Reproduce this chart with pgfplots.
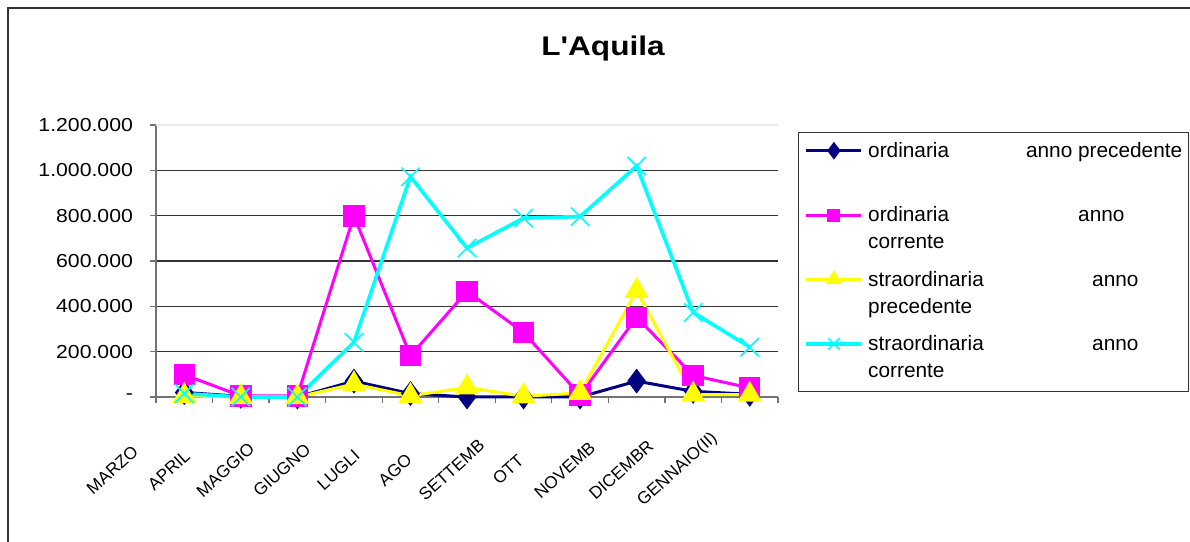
\documentclass[border=0pt]{standalone}
\usepackage{fontspec}
\setmainfont{Liberation Sans}
\usepackage{pgfplots}
\pgfplotsset{compat=1.18}
\definecolor{cnavy}{RGB}{0,0,128}
\definecolor{cmag}{RGB}{255,0,255}
\definecolor{cyel}{RGB}{255,255,0}
\definecolor{ccyan}{RGB}{0,255,255}
\begin{document}
\begin{tikzpicture}
\useasboundingbox (0,0) rectangle (595bp,271bp);
\draw[black!80, line width=0.8bp] (4bp,0) -- (4bp,267bp) -- (595bp,267bp);
\node[font=\fontsize{13.5bp}{16bp}\selectfont\bfseries, xscale=1.17] at (301.5bp,246.5bp) {L\textquotesingle Aquila};
\begin{axis}[
  at={(78bp,72.5bp)}, anchor=south west,
  scale only axis, width=311bp, height=136bp,
  xmin=-0.5, xmax=10.5, ymin=0, ymax=1200000,
  clip=false,
  axis x line*=bottom, axis y line*=left,
  axis line style={black!55, line width=0.6bp},
  xtick={-0.5,0.5,...,10.5},
  xticklabels={},
  extra x ticks={0,1,2,3,4,5,6,7,8,9,10},
  extra x tick labels={MARZO,APRIL,MAGGIO,GIUGNO,LUGLI,AGO,SETTEMB,OTT,NOVEMB,DICEMBR,GENNAIO(II)},
  extra x tick style={major tick length=0pt, tick style={draw=none},
    xticklabel style={font=\fontsize{8.6bp}{10bp}\selectfont, anchor=center, inner sep=0pt, xshift=-36bp, yshift=-36.5bp, rotate=42}},
  tick align=outside,
  major tick length=2.8bp,
  tick style={black!55, line width=0.6bp},
  ytick={0,200000,400000,600000,800000,1000000},
  yticklabels={-,200.000,400.000,600.000,800.000,1.000.000},
  extra y ticks={1200000},
  extra y tick labels={1.200.000},
  extra y tick style={grid style={black!8, line width=0.6bp}},
  scaled y ticks=false,
  ymajorgrids,
  grid style={black!80, line width=0.6bp},
  tick label style={font=\fontsize{9.4bp}{11bp}\selectfont},
  yticklabel style={anchor=east, inner sep=0pt, xshift=-8.5bp, xscale=1.13},
  legend style={at={(rel axis cs:1.0322,0.9743)}, anchor=north west,
    draw=black!80, line width=0.6bp, fill=white,
    inner xsep=3bp, inner ysep=3bp,
    row sep=5.2bp, column sep=2.5bp,
    nodes={inner sep=0pt, text depth=},
    cells={anchor=base west},
    font=\fontsize{10.4bp}{13.5bp}\selectfont},
  legend image code/.code={\draw[mark repeat=2,mark phase=2,#1] plot coordinates {(0bp,3.4bp) (13.75bp,3.4bp) (27.5bp,3.4bp)};},
]
\addplot[cnavy, line width=1.5bp, mark=diamond*, mark size=5bp, mark options={solid}, legend image post style={mark size=3.2bp}]
  coordinates {(0,20000) (1,3000) (2,0) (3,70000) (4,15000) (5,0) (6,0) (7,0) (8,70000) (9,25000) (10,12000)};
\addlegendentry{\parbox[t]{157bp}{\strut ordinaria\hfill anno precedente\\\strut}}
\addplot[cmag, line width=1.5bp, mark=square*, mark size=4.6bp, mark options={solid}, legend image post style={mark size=2.5bp}]
  coordinates {(0,98000) (1,5000) (2,5000) (3,799000) (4,182000) (5,466000) (6,285000) (7,8000) (8,352000) (9,95000) (10,40000)};
\addlegendentry{\parbox[t]{157bp}{\strut\makebox[105bp][l]{ordinaria}anno\\\strut corrente}}
\addplot[cyel, line width=1.5bp, mark=triangle*, mark size=5.5bp, mark options={solid}, legend image post style={mark size=3.2bp}]
  coordinates {(0,5000) (1,0) (2,0) (3,57000) (4,5000) (5,42000) (6,3000) (7,18000) (8,468000) (9,10000) (10,10000)};
\addlegendentry{\parbox[t]{157bp}{\strut\makebox[112bp][l]{straordinaria}anno\\\strut precedente}}
\addplot[ccyan, line width=1.8bp, mark=x, mark size=6.5bp, mark options={solid, line width=0.8bp}, legend image post style={mark size=4bp}]
  coordinates {(0,15000) (1,0) (2,0) (3,241000) (4,972000) (5,657000) (6,789000) (7,796000) (8,1019000) (9,373000) (10,220000)};
\addlegendentry{\parbox[t]{157bp}{\strut\makebox[112bp][l]{straordinaria}anno\\\strut corrente}}
\end{axis}
\end{tikzpicture}
\end{document}
